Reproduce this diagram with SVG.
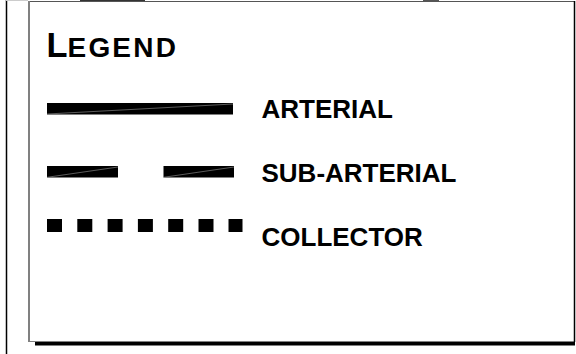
<svg xmlns="http://www.w3.org/2000/svg" width="576" height="354" viewBox="0 0 576 354">
<style>
.lbl{font-family:"Liberation Sans",Arial,sans-serif;font-weight:bold;font-size:26px;fill:#000}
.sym{fill:#000}
.glint{stroke:#999;stroke-width:0.6;fill:none}
</style>
<rect width="576" height="354" fill="#fff"/>
<g id="frame">
<line x1="6.5" y1="0" x2="6.5" y2="354" stroke="#000" stroke-width="1.5"/>
<line x1="6" y1="0.5" x2="28" y2="0.5" stroke="#ccc" stroke-width="1"/>
<rect x="35" y="342" width="540" height="3.5" fill="#000"/>
<line x1="28" y1="1.5" x2="575" y2="1.5" stroke="#555" stroke-width="1"/>
<line x1="29" y1="1" x2="29" y2="342" stroke="#808080" stroke-width="2"/>
<line x1="28" y1="341.5" x2="575" y2="341.5" stroke="#808080" stroke-width="1"/>
<line x1="574.5" y1="1" x2="574.5" y2="342" stroke="#000" stroke-width="1.5"/>
<line x1="80" y1="0.5" x2="145" y2="0.5" stroke="#333" stroke-width="1"/>
<line x1="423" y1="0.5" x2="439" y2="0.5" stroke="#555" stroke-width="1"/>
</g>
<g id="title">
<text x="46.5" y="57.3" font-family="Liberation Sans, Arial, sans-serif" font-weight="bold" fill="#000"><tspan font-size="34.4">L</tspan><tspan font-size="28" letter-spacing="2.2">EGEND</tspan></text>
</g>
<g id="arterial">
<rect class="sym" x="47" y="103" width="186" height="11.5"/>
<line class="glint" x1="47" y1="114" x2="233" y2="104"/>
<text class="lbl" x="261.5" y="118.3">ARTERIAL</text>
</g>
<g id="sub-arterial">
<rect class="sym" x="47" y="166" width="71" height="11.5"/>
<rect class="sym" x="163.5" y="166" width="70.5" height="11.5"/>
<line class="glint" x1="47" y1="177.3" x2="118" y2="167"/>
<line class="glint" x1="163.5" y1="177.3" x2="234" y2="167"/>
<text class="lbl" x="261.5" y="181.7">SUB-ARTERIAL</text>
</g>
<g id="collector">
<rect class="sym" x="47" y="219" width="15" height="13"/>
<rect class="sym" x="77.3" y="219" width="15" height="13"/>
<rect class="sym" x="107.6" y="219" width="15" height="13"/>
<rect class="sym" x="137.9" y="219" width="15" height="13"/>
<rect class="sym" x="168.2" y="219" width="15" height="13"/>
<rect class="sym" x="198.5" y="219" width="15" height="13"/>
<rect class="sym" x="228.5" y="219" width="14" height="13"/>
<text class="lbl" x="261.5" y="245.7">COLLECTOR</text>
</g>
</svg>
